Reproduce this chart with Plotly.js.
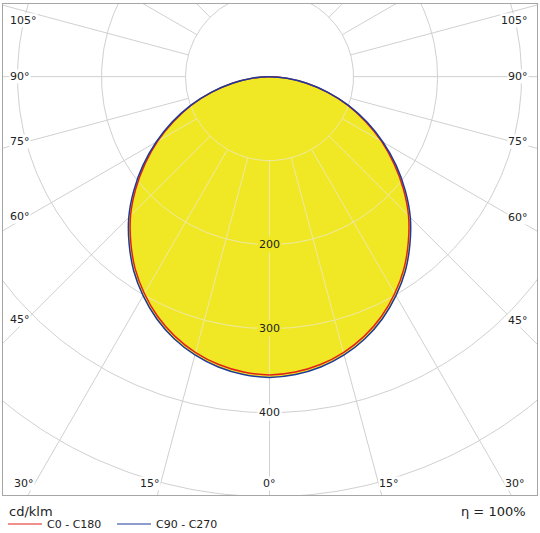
<!DOCTYPE html>
<html>
<head>
<meta charset="utf-8">
<script src="https://cdn.plot.ly/plotly-3.0.1.min.js"></script>
<style>
  html, body { margin: 0; padding: 0; background: #fff; }
  #chart { width: 540px; height: 533px; }
</style>
</head>
<body>
<div id="chart"></div>
<script>
// luminous intensity (cd/klm) against gamma angle from nadir
const gamma     = [0, 5, 10, 15, 20, 25, 30, 35, 40, 45, 50, 55, 60, 65, 70, 75, 80, 85, 90];
const c0_c180   = [355, 353, 348, 340, 329, 315, 298, 279, 257, 234, 208, 181, 154, 126, 99, 71, 44, 20, 0];
const c90_c270  = [358, 356, 351, 343, 332, 318, 301, 282, 260, 237, 211, 184, 156, 128, 100, 72, 45, 21, 0];
const seriesNames = ['C0 - C180', 'C90 - C270'];

const ringValues = [100, 200, 300, 400, 500, 600];
const ringLabelValues = [200, 300, 400];
const angleTicks = [0, 15, 30, 45, 60, 75, 90, 105];
const unitText = 'cd/klm';
const effText = 'η = 100%';

const W = 540, H = 533;
const M = {l: 3, r: 3, t: 4, b: 38};
const xRange = [-317.3, 318.4];
const yRange = [-498, 86.5];
const PW = W - M.l - M.r, PH = H - M.t - M.b;
const S = PW / (xRange[1] - xRange[0]);   // px per cd/klm

const YELLOW = '#f0e824', GRID = '#d0d0d0', GRID_IN = '#eee8a8';
const RED = '#e3211c', BLUE = '#1e3a98';
const FONT = 'DejaVu Sans, Verdana, sans-serif';

const rad = d => d * Math.PI / 180;
// pixel position inside the page -> paper fraction
const px2x = p => (p - M.l) / PW;
const py2y = p => (H - M.b - p) / PH;

// linear read of a series at any gamma
function intensityAt(values, g) {
  g = Math.abs(g);
  if (g >= gamma[gamma.length - 1]) return values[values.length - 1];
  for (let i = 0; i < gamma.length - 1; i++) {
    if (g <= gamma[i + 1]) {
      let t = (g - gamma[i]) / (gamma[i + 1] - gamma[i]);
      return values[i] + t * (values[i + 1] - values[i]);
    }
  }
}

// both halves of a plane, left half mirrored
function curveXY(values) {
  let x = [], y = [];
  for (let i = gamma.length - 1; i >= 0; i--) {
    x.push(-values[i] * Math.sin(rad(gamma[i])));
    y.push(-values[i] * Math.cos(rad(gamma[i])));
  }
  for (let i = 1; i < gamma.length; i++) {
    x.push(values[i] * Math.sin(rad(gamma[i])));
    y.push(-values[i] * Math.cos(rad(gamma[i])));
  }
  return {x, y};
}

// polar grid: full grid in grey, plus the part inside the light shape in a pale tone
let gx = [], gy = [], ix = [], iy = [];
ringValues.forEach(R => {
  for (let a = -180; a <= 180; a += 1) {
    gx.push(R * Math.sin(rad(a)));
    gy.push(-R * Math.cos(rad(a)));
  }
  gx.push(null); gy.push(null);
  for (let a = -90; a <= 90; a += 0.5) {
    if (intensityAt(c90_c270, a) > R + 1) {
      ix.push(R * Math.sin(rad(a)));
      iy.push(-R * Math.cos(rad(a)));
    } else {
      ix.push(null); iy.push(null);
    }
  }
  ix.push(null); iy.push(null);
});
for (let a = 0; a < 360; a += 15) {
  gx.push(100 * Math.sin(rad(a)), 800 * Math.sin(rad(a)), null);
  gy.push(-100 * Math.cos(rad(a)), -800 * Math.cos(rad(a)), null);
  let g = a > 180 ? a - 360 : a;
  let rEnd = intensityAt(c90_c270, g) - 1;
  if (Math.abs(g) < 90 && rEnd > 100) {
    ix.push(100 * Math.sin(rad(a)), rEnd * Math.sin(rad(a)), null);
    iy.push(-100 * Math.cos(rad(a)), -rEnd * Math.cos(rad(a)), null);
  }
}

const red = curveXY(c0_c180);
const blue = curveXY(c90_c270);

const traces = [
  {x: gx, y: gy, mode: 'lines', line: {color: GRID, width: 1}, hoverinfo: 'skip'},
  {x: blue.x, y: blue.y, mode: 'lines', fill: 'toself', fillcolor: YELLOW,
   line: {width: 0, color: YELLOW, shape: 'spline', smoothing: 0.8}, hoverinfo: 'skip'},
  {x: ix, y: iy, mode: 'lines', line: {color: GRID_IN, width: 1}, hoverinfo: 'skip'},
  {x: red.x, y: red.y, mode: 'lines', name: seriesNames[0],
   line: {color: RED, width: 1.5, shape: 'spline', smoothing: 0.8}},
  {x: blue.x, y: blue.y, mode: 'lines', name: seriesNames[1],
   line: {color: BLUE, width: 1.5, shape: 'spline', smoothing: 0.8}}
];

let annotations = [];
let shapes = [];

// ring values along the nadir line
ringLabelValues.forEach(v => {
  annotations.push({
    x: 0, y: -v, xref: 'x', yref: 'y', text: String(v), showarrow: false,
    font: {family: FONT, size: 11, color: '#222'},
    bgcolor: intensityAt(c90_c270, 0) > v ? YELLOW : '#ffffff', borderpad: 1
  });
});

// angle labels where the rays meet the frame
const xL = xRange[0], xR = xRange[1], yT = yRange[1], yB = yRange[0];
angleTicks.forEach(g => {
  [-1, 1].forEach(side => {
    if (g === 0 && side === 1) return;
    let yb = yB + 12 / S;
    let dxB = g < 90 ? -yb * Math.tan(rad(g)) : Infinity;
    let edge = side < 0 ? -xL : xR;
    let a = {text: g + '°', showarrow: false, xref: 'x', yref: 'y',
             font: {family: FONT, size: 11, color: '#222'}, bgcolor: '#ffffff', borderpad: 0};
    if (dxB < edge - 24 / S) {
      a.x = side * dxB;
      a.y = yb;
      a.xanchor = g === 0 ? 'center' : (side < 0 ? 'right' : 'left');
      a.yanchor = 'middle';
    } else {
      let X = edge - 24 / S;
      let y = -X / Math.tan(rad(g));
      y = Math.min(y, yT - 16 / S);
      y = Math.max(y, yB + 30 / S);
      a.x = side < 0 ? xL + 6 / S : xR - 8 / S;
      a.y = y;
      a.xanchor = side < 0 ? 'left' : 'right';
      a.yanchor = 'middle';
    }
    annotations.push(a);
  });
});

// footer: unit, efficiency and the two plane keys
annotations.push({
  xref: 'paper', yref: 'paper', x: px2x(7), y: py2y(511), xanchor: 'left', yanchor: 'middle',
  text: unitText, showarrow: false, font: {family: FONT, size: 13, color: '#222'}
});
annotations.push({
  xref: 'paper', yref: 'paper', x: px2x(528), y: py2y(511), xanchor: 'right', yanchor: 'middle',
  text: effText, showarrow: false, font: {family: FONT, size: 13, color: '#222'}
});
const keyX = [8, 117];
const keyColors = [RED, BLUE];
seriesNames.forEach((name, i) => {
  shapes.push({
    type: 'line', xref: 'paper', yref: 'paper',
    x0: px2x(keyX[i]), x1: px2x(keyX[i] + 34), y0: py2y(524), y1: py2y(524),
    line: {color: keyColors[i], width: 1}
  });
  annotations.push({
    xref: 'paper', yref: 'paper', x: px2x(keyX[i] + 37), y: py2y(524),
    xanchor: 'left', yanchor: 'middle', text: name, showarrow: false,
    font: {family: FONT, size: 11, color: '#222'}
  });
});

const axisBase = {
  showgrid: false, zeroline: false, showticklabels: false, ticks: '',
  showline: true, mirror: true, linecolor: '#a6a6a6', linewidth: 1, fixedrange: true
};

const layout = {
  width: W, height: H,
  margin: M,
  paper_bgcolor: '#ffffff', plot_bgcolor: '#ffffff',
  xaxis: Object.assign({range: xRange}, axisBase),
  yaxis: Object.assign({range: yRange}, axisBase),
  showlegend: false,
  annotations: annotations,
  shapes: shapes
};

Plotly.newPlot('chart', traces, layout, {staticPlot: true, displayModeBar: false});
</script>
</body>
</html>
